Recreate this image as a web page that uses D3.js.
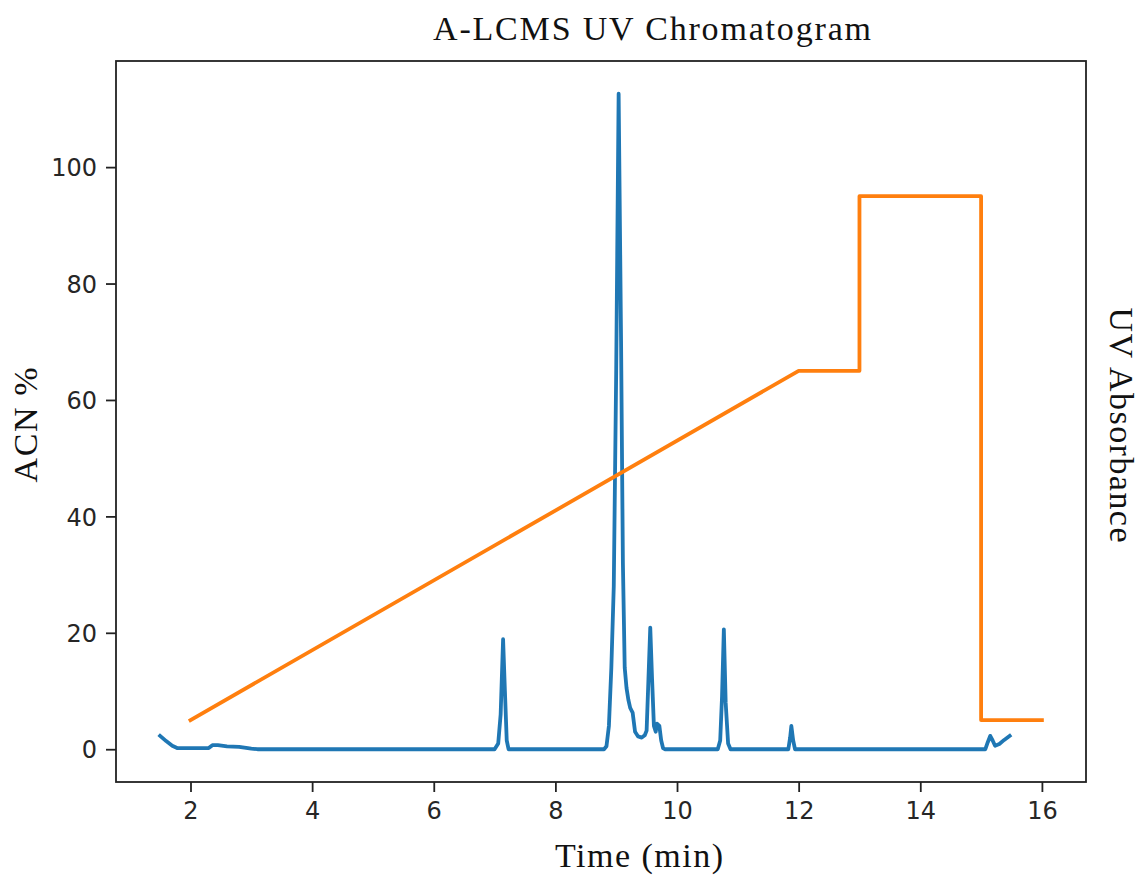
<!DOCTYPE html>
<html>
<head>
<meta charset="utf-8">
<script src="https://cdn.jsdelivr.net/npm/d3@7"></script>
<style>
  body { margin: 0; background: #fff; }
  .tick text { font-family: "DejaVu Sans", sans-serif; font-size: 24px; fill: #262626; }
  .serif { font-family: "Liberation Serif", serif; font-size: 34px; fill: #111; }
</style>
</head>
<body>
<svg id="chart" width="1143" height="876"></svg>
<script>
// DATA: UV trace (time in min, absorbance)
const uvTime = [1.50, 1.60, 1.70, 1.78, 2.00, 2.30, 2.36, 2.45, 2.60, 2.80, 3.00, 3.10,
  7.00, 7.06, 7.10, 7.14, 7.17, 7.20, 7.23,
  8.80, 8.84, 8.88, 8.92, 8.96, 9.00, 9.04, 9.08, 9.11, 9.14, 9.17, 9.20, 9.23, 9.27,
  9.31, 9.36, 9.42, 9.47, 9.50, 9.53, 9.56, 9.59, 9.62, 9.65, 9.67, 9.71, 9.74, 9.77, 9.80,
  10.67, 10.71, 10.74, 10.77, 10.80, 10.84, 10.88,
  11.83, 11.86, 11.88, 11.91, 11.94,
  15.07, 15.11, 15.15, 15.19, 15.23, 15.30, 15.38, 15.47];
const uvAbs = [2.3, 1.4, 0.6, 0.2, 0.2, 0.2, 0.7, 0.7, 0.5, 0.4, 0.1, 0,
  0, 1.0, 6, 18.9, 10, 1.5, 0,
  0, 0.5, 4, 14, 28, 65, 112.6, 70, 32, 14, 10.5, 8.5, 7.1, 6.3,
  3, 2.2, 2.0, 2.4, 3.2, 12, 20.9, 12, 4, 3.0, 4.4, 4.0, 1.5, 0.2, 0,
  0, 1.5, 9, 20.6, 8, 1, 0,
  0, 2, 4.0, 1.5, 0,
  0, 1.2, 2.3, 1.5, 0.6, 0.9, 1.6, 2.3];

// DATA: ACN gradient program
const gradTime = [2, 12, 13, 13, 15, 15, 16];
const gradACN = [5, 65, 65, 95, 95, 5, 5];

const xTicks = [2, 4, 6, 8, 10, 12, 14, 16];
const yTicks = [0, 20, 40, 60, 80, 100];

// SETUP
const plotLeft = 116, plotRight = 1086, plotTop = 61, plotBottom = 782;
const svg = d3.select("#chart");

// scales with 5% padding like matplotlib
const allX = uvTime.concat(gradTime), allY = uvAbs.concat(gradACN);
const xMin = d3.min(allX), xMax = d3.max(allX), xPad = (xMax - xMin) * 0.05;
const yMin = d3.min(allY), yMax = d3.max(allY), yPad = (yMax - yMin) * 0.05;

const x = d3.scaleLinear().domain([xMin - xPad, xMax + xPad]).range([plotLeft, plotRight]);
const y = d3.scaleLinear().domain([yMin - yPad, yMax + yPad]).range([plotBottom, plotTop]);

const line = d3.line().x(d => x(d[0])).y(d => y(d[1]));

// LINES
svg.append("path")
  .datum(uvTime.map((t, i) => [t, uvAbs[i]]))
  .attr("d", line)
  .attr("fill", "none")
  .attr("stroke", "#1f77b4")
  .attr("stroke-width", 3.8)
  .attr("stroke-linejoin", "round")
  .attr("stroke-linecap", "square");

svg.append("path")
  .datum(gradTime.map((t, i) => [t, gradACN[i]]))
  .attr("d", line)
  .attr("fill", "none")
  .attr("stroke", "#ff7f0e")
  .attr("stroke-width", 3.8)
  .attr("stroke-linejoin", "round")
  .attr("stroke-linecap", "square");

// AXES
const xAxis = svg.append("g")
  .attr("transform", `translate(0,${plotBottom})`)
  .call(d3.axisBottom(x).tickValues(xTicks).tickSize(10).tickPadding(9).tickSizeOuter(0));
const yAxis = svg.append("g")
  .attr("transform", `translate(${plotLeft},0)`)
  .call(d3.axisLeft(y).tickValues(yTicks).tickSize(10).tickPadding(9).tickSizeOuter(0));
[xAxis, yAxis].forEach(a => {
  a.select(".domain").remove();
  a.selectAll(".tick line").attr("stroke", "#222").attr("stroke-width", 1.8);
});
xAxis.selectAll(".tick text").attr("dy", "0.75em");
yAxis.selectAll(".tick text").attr("dy", "0.36em");

// frame
svg.append("rect")
  .attr("x", plotLeft).attr("y", plotTop)
  .attr("width", plotRight - plotLeft).attr("height", plotBottom - plotTop)
  .attr("fill", "none").attr("stroke", "#222").attr("stroke-width", 1.8);

// LABELS
svg.append("text")
  .attr("class", "serif")
  .attr("x", 652).attr("y", 40)
  .attr("text-anchor", "middle")
  .attr("textLength", 438)
  .text("A-LCMS UV Chromatogram");

svg.append("text")
  .attr("class", "serif")
  .attr("x", 639).attr("y", 867)
  .attr("text-anchor", "middle")
  .attr("textLength", 168)
  .text("Time (min)");

svg.append("text")
  .attr("class", "serif")
  .attr("transform", "translate(37,425) rotate(-90)")
  .attr("text-anchor", "middle")
  .attr("textLength", 115)
  .text("ACN %");

svg.append("text")
  .attr("class", "serif")
  .attr("transform", "translate(1110,425) rotate(90)")
  .attr("text-anchor", "middle")
  .attr("textLength", 235)
  .text("UV Absorbance");
</script>
</body>
</html>
